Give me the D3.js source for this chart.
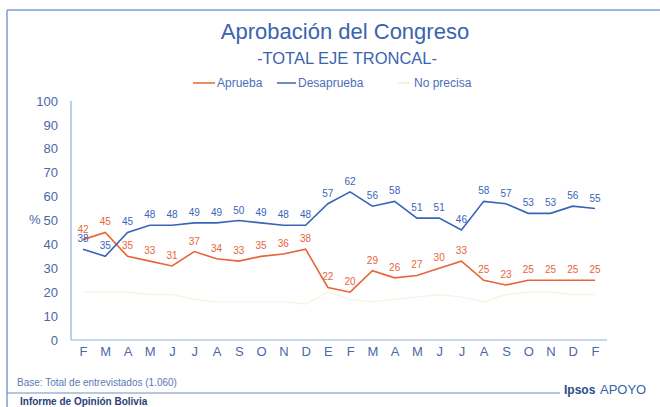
<!DOCTYPE html>
<html>
<head>
<meta charset="utf-8">
<script src="https://cdn.jsdelivr.net/npm/d3@7/dist/d3.min.js"></script>
<style>
  body { margin: 0; background: #fff; }
  svg { display: block; font-family: "Liberation Sans", Arial, sans-serif; }
  .axis text { fill: #4a68a8; font-size: 13px; font-family: "Liberation Sans", Arial, sans-serif; }
  .axis path { stroke: #8fb0e0; stroke-width: 1.2; }
</style>
</head>
<body>
<svg width="660" height="407"></svg>
<script>
// meses (feb a feb)
var months     = ["F","M","A","M","J","J","A","S","O","N","D","E","F","M","A","M","J","J","A","S","O","N","D","F"];
var aprueba    = [42,45,35,33,31,37,34,33,35,36,38,22,20,29,26,27,30,33,25,23,25,25,25,25];
var desaprueba = [38,35,45,48,48,49,49,50,49,48,48,57,62,56,58,51,51,46,58,57,53,53,56,55];
var noPrecisa  = [20,20,20,19,19,17,16,16,16,16,15,20,17,16,17,18,19,18,16,19,20,20,19,19];
var yTicks     = [0,10,20,30,40,50,60,70,80,90,100];

var svg = d3.select("svg");
var idx = d3.range(months.length);

var x = d3.scalePoint().domain(idx).range([83, 595]);
var y = d3.scaleLinear().domain([0, 100]).range([340, 101]);

// marco
svg.append("line").attr("x1", 7).attr("x2", 7).attr("y1", 10).attr("y2", 407)
   .attr("stroke", "#7a9fd0").attr("stroke-width", 1.5);
svg.append("line").attr("x1", 7).attr("x2", 660).attr("y1", 10).attr("y2", 10)
   .attr("stroke", "#7a9fd0").attr("stroke-width", 1.5);
svg.append("line").attr("x1", 7).attr("x2", 560).attr("y1", 393).attr("y2", 393)
   .attr("stroke", "#6f8fc4").attr("stroke-width", 1);

// titulos
svg.append("text").attr("x", 345).attr("y", 39).attr("text-anchor", "middle")
   .attr("font-size", 22).attr("fill", "#3a63b0").text("Aprobación del Congreso");
svg.append("text").attr("x", 347).attr("y", 64).attr("text-anchor", "middle")
   .attr("font-size", 16.5).attr("fill", "#3a63b0").text("-TOTAL EJE TRONCAL-");

// leyenda
var legend = [
  {name: "Aprueba",    color: "#e8643a", x: 193, w: 22, tx: 217},
  {name: "Desaprueba", color: "#3a64b8", x: 277, w: 19, tx: 298},
  {name: "No precisa", color: "#f5efd6", x: 398, w: 12, tx: 414}
];
legend.forEach(function(d) {
  svg.append("line").attr("x1", d.x).attr("x2", d.x + d.w).attr("y1", 83).attr("y2", 83)
     .attr("stroke", d.color).attr("stroke-width", 1.5);
  svg.append("text").attr("x", d.tx).attr("y", 87)
     .attr("font-size", 12).attr("fill", "#4a6fb8").text(d.name);
});

// ejes
svg.append("g").attr("class", "axis")
   .attr("transform", "translate(71,0)")
   .call(d3.axisLeft(y).tickValues(yTicks).tickSize(0).tickPadding(13))
   .select(".domain").attr("d", "M0," + y(100) + "V" + y(0));

var gx = svg.append("g").attr("class", "axis")
   .attr("transform", "translate(0,340)")
   .call(d3.axisBottom(x).tickSize(0).tickPadding(7).tickFormat(function(i) { return months[i]; }));
gx.select(".domain").attr("d", "M71,0H607");

svg.append("text").attr("x", 29).attr("y", 224).attr("font-size", 13)
   .attr("fill", "#4a68a8").text("%");

// series
var line = d3.line().x(function(d, i) { return x(i); }).y(function(d) { return y(d); });

var series = [
  {values: noPrecisa,  color: "#f7f2de", width: 1.2, label: "#efe6c0", show: false},
  {values: aprueba,    color: "#e8643a", width: 1.6, label: "#e8643a", show: true},
  {values: desaprueba, color: "#3a64b8", width: 1.6, label: "#3a64b8", show: true}
];

series.forEach(function(s) {
  svg.append("path").datum(s.values)
     .attr("fill", "none").attr("stroke", s.color).attr("stroke-width", s.width)
     .attr("d", line);
  if (s.show) {
    svg.append("g").selectAll("text").data(s.values).enter().append("text")
       .attr("x", function(d, i) { return x(i); })
       .attr("y", function(d) { return y(d) - 7; })
       .attr("text-anchor", "middle")
       .attr("font-size", 10)
       .attr("fill", s.label)
       .text(function(d) { return d; });
  }
});

// pie
svg.append("text").attr("x", 17).attr("y", 386).attr("font-size", 10)
   .attr("fill", "#5a7ab5").text("Base: Total de entrevistados (1.060)");
svg.append("text").attr("x", 20).attr("y", 405).attr("font-size", 10).attr("font-weight", "bold")
   .attr("fill", "#2a3f7a").text("Informe de Opinión Bolivia");
svg.append("text").attr("x", 564).attr("y", 394).attr("font-size", 12).attr("font-weight", "bold")
   .attr("fill", "#2a4a8a").text("Ipsos");
svg.append("text").attr("x", 600).attr("y", 394).attr("font-size", 13)
   .attr("fill", "#3a5fa8").text("APOYO");
</script>
</body>
</html>
